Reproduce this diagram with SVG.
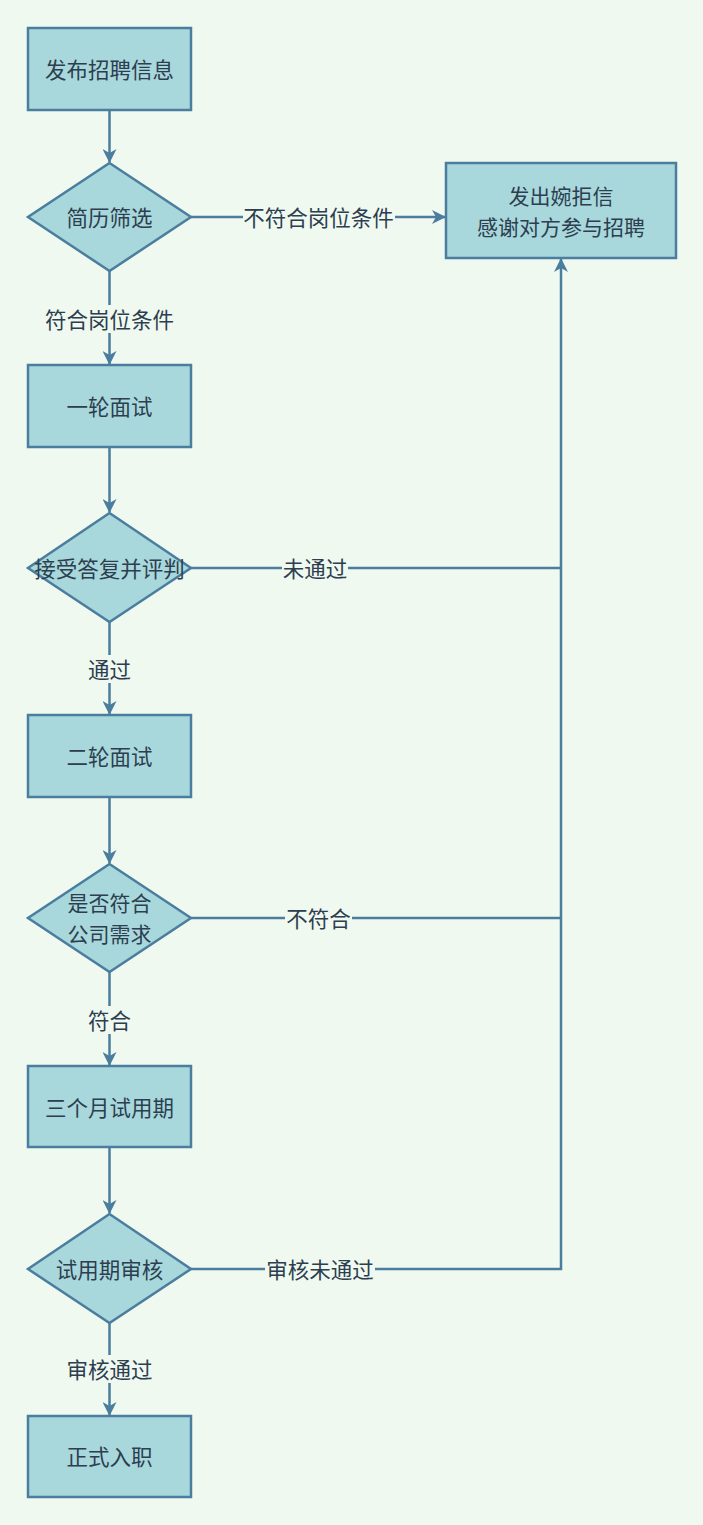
<svg xmlns="http://www.w3.org/2000/svg" width="703" height="1525" viewBox="0 0 703 1525">
<defs>
<style>
.n{fill:#a8d8db;stroke:#4a7d9e;stroke-width:2.5}
.c{fill:none;stroke:#4a7d9e;stroke-width:2.5}
.t{font-family:"Noto Sans CJK SC","Noto Sans",sans-serif;font-size:21.5px;fill:#2c3e50;text-anchor:middle;dominant-baseline:central}
.t2{font-size:21px}
.lb{fill:#f0f9ef}
</style>
<marker id="ah" viewBox="0 0 14 14" markerWidth="14" markerHeight="14" refX="13" refY="7" orient="auto" markerUnits="userSpaceOnUse">
<path d="M0,0 L14,7 L0,14 L4,7 z" fill="#4a7d9e"/>
</marker>
</defs>
<rect width="703" height="1525" fill="#f0f9ef"/>
<g id="connectors">
<path class="c" d="M109.5,110 V162" marker-end="url(#ah)"/>
<path class="c" d="M109.5,271 V364" marker-end="url(#ah)"/>
<path class="c" d="M191,217 H445" marker-end="url(#ah)"/>
<path class="c" d="M109.5,447 V512" marker-end="url(#ah)"/>
<path class="c" d="M109.5,622 V714" marker-end="url(#ah)"/>
<path class="c" d="M109.5,797 V863" marker-end="url(#ah)"/>
<path class="c" d="M109.5,972 V1065" marker-end="url(#ah)"/>
<path class="c" d="M109.5,1147 V1213" marker-end="url(#ah)"/>
<path class="c" d="M109.5,1323 V1415" marker-end="url(#ah)"/>
<path class="c" d="M191,568 H561"/>
<path class="c" d="M191,918 H561"/>
<path class="c" d="M191,1269 H561 V259" marker-end="url(#ah)"/>
<rect class="lb" x="44" y="305" width="131" height="28"/>
<text class="t" x="109.5" y="318">符合岗位条件</text>
<rect class="lb" x="243" y="203" width="152" height="28"/>
<text class="t" x="318.5" y="216">不符合岗位条件</text>
<rect class="lb" x="282" y="554" width="66" height="28"/>
<text class="t" x="315" y="567">未通过</text>
<rect class="lb" x="87" y="655" width="45" height="28"/>
<text class="t" x="109.5" y="668">通过</text>
<rect class="lb" x="285" y="904" width="67" height="28"/>
<text class="t" x="318.5" y="917">不符合</text>
<rect class="lb" x="87" y="1006" width="45" height="28"/>
<text class="t" x="109.5" y="1019">符合</text>
<rect class="lb" x="265" y="1255" width="110" height="28"/>
<text class="t" x="320" y="1268">审核未通过</text>
<rect class="lb" x="65" y="1355" width="89" height="28"/>
<text class="t" x="109.5" y="1368">审核通过</text>
</g>
<g id="n1"><rect class="n" x="28" y="28" width="163" height="82"/><text class="t" x="109.5" y="68.5">发布招聘信息</text></g>
<g id="n2"><path class="n" d="M109.5,163 L191,217 L109.5,271 L28,217 Z"/><text class="t" x="109.5" y="216">简历筛选</text></g>
<g id="n3"><rect class="n" x="446" y="163" width="230" height="95"/><text class="t t2" x="561" y="195">发出婉拒信<tspan x="561" dy="30.5">感谢对方参与招聘</tspan></text></g>
<g id="n4"><rect class="n" x="28" y="365" width="163" height="82"/><text class="t" x="109.5" y="405">一轮面试</text></g>
<g id="n5"><path class="n" d="M109.5,513 L191,568 L109.5,622 L28,568 Z"/><text class="t" x="109.5" y="567">接受答复并评判</text></g>
<g id="n6"><rect class="n" x="28" y="715" width="163" height="82"/><text class="t" x="109.5" y="755">二轮面试</text></g>
<g id="n7"><path class="n" d="M109.5,864 L191,918 L109.5,972 L28,918 Z"/><text class="t t2" x="109.5" y="902">是否符合<tspan x="109.5" dy="30.5">公司需求</tspan></text></g>
<g id="n8"><rect class="n" x="28" y="1066" width="163" height="81"/><text class="t" x="109.5" y="1106">三个月试用期</text></g>
<g id="n9"><path class="n" d="M109.5,1214 L191,1269 L109.5,1323 L28,1269 Z"/><text class="t" x="109.5" y="1268">试用期审核</text></g>
<g id="n10"><rect class="n" x="28" y="1416" width="163" height="81"/><text class="t" x="109.5" y="1455">正式入职</text></g>
</svg>
